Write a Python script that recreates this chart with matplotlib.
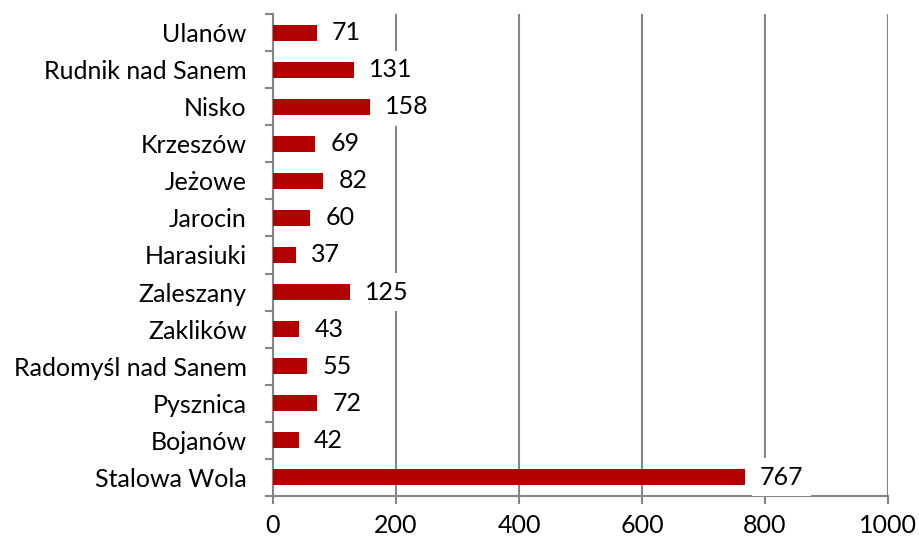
import matplotlib
matplotlib.use("Agg")
import matplotlib.pyplot as plt
import numpy as np
from matplotlib.ticker import FixedLocator

categories = ["Stalowa Wola", "Bojanów", "Pysznica", "Radomyśl nad Sanem", "Zaklików",
              "Zaleszany", "Harasiuki", "Jarocin", "Jeżowe", "Krzeszów", "Nisko",
              "Rudnik nad Sanem", "Ulanów"]
values = [767, 42, 72, 55, 43, 125, 37, 60, 82, 69, 158, 131, 71]
xticks = [0, 200, 400, 600, 800, 1000]

plt.rcParams['font.family'] = ['Lato', 'DejaVu Sans']
fig = plt.figure(figsize=(9.19, 5.39), dpi=100)
ax = fig.add_axes([273/919, 43/539, (888-273)/919, (496-14)/539])

y = np.arange(len(categories))
ax.barh(y, values, height=0.43, color='#B00000', zorder=3)
ax.set_xlim(0, 1000)
ax.set_ylim(-0.5, len(categories) - 0.5)
ax.set_xticks(xticks)
ax.set_xticklabels([str(t) for t in xticks], fontsize=18)
ax.set_yticks(y)
ax.set_yticklabels(categories, fontsize=18)
ax.tick_params(axis='y', which='major', length=0, pad=19)
ax.yaxis.set_minor_locator(FixedLocator(np.arange(-0.5, len(categories), 1)))
ax.tick_params(axis='y', which='minor', length=6, width=1.5, color='#868686', direction='out')
ax.tick_params(axis='x', which='major', length=6, width=1.5, color='#868686', direction='out', pad=7)
ax.grid(axis='x', color='#868686', linewidth=1.5, zorder=0)
for s in ['top', 'right']:
    ax.spines[s].set_visible(False)
for s in ['left', 'bottom']:
    ax.spines[s].set_color('#868686')
    ax.spines[s].set_linewidth(1.5)

for yi, v in zip(y, values):
    ax.annotate(str(v), (v, yi), xytext=(11, 0), textcoords='offset points',
                va='center', ha='left', fontsize=18, zorder=5,
                bbox=dict(boxstyle='square,pad=0.3', fc='white', ec='none'))

fig.savefig('out.png', dpi=100)
